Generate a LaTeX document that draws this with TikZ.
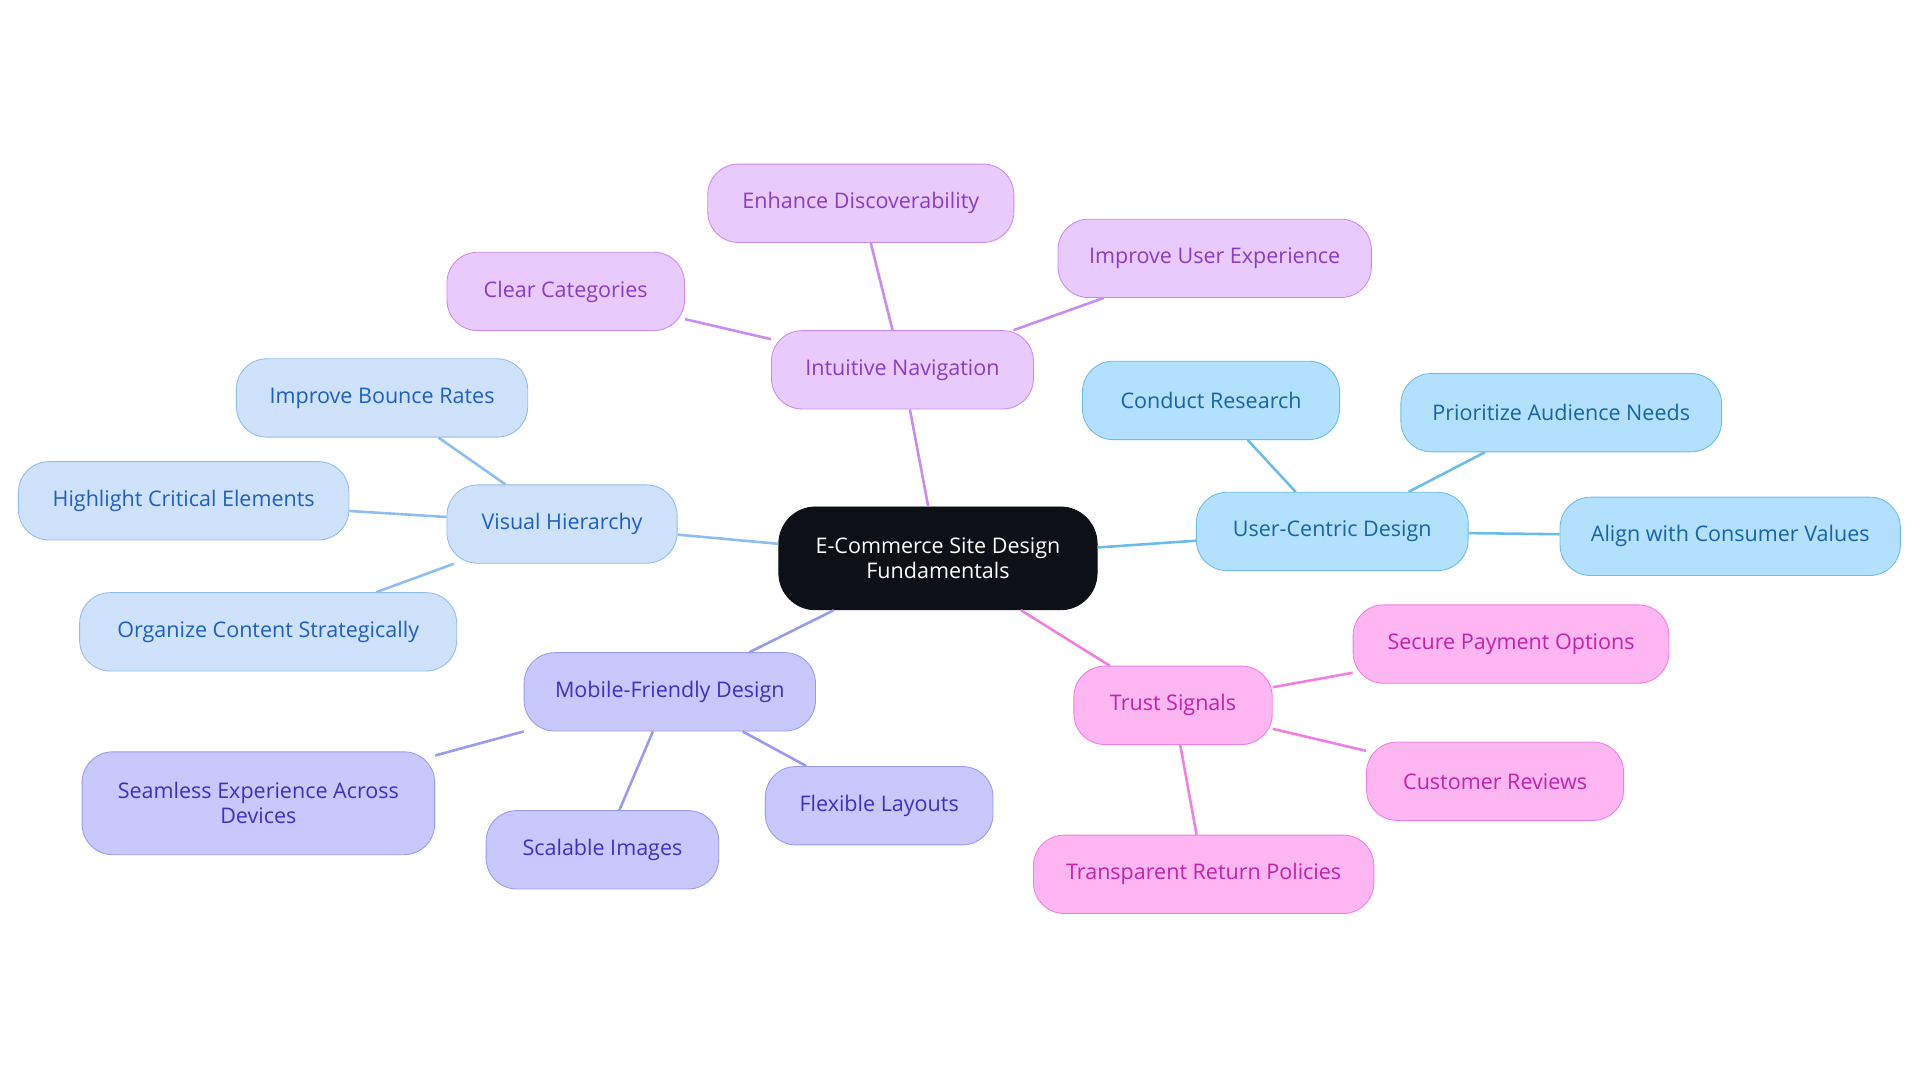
\documentclass[tikz,border=0pt]{standalone}
\usepackage{fontspec}
\setmainfont{Open Sans}
\definecolor{rootfill}{HTML}{0D1117}
\definecolor{vhfill}{HTML}{CFE2FB}\definecolor{vhline}{HTML}{90BDF0}\definecolor{vhtext}{HTML}{1F5FBF}
\definecolor{ucfill}{HTML}{B3E0FC}\definecolor{ucline}{HTML}{6BBCEC}\definecolor{uctext}{HTML}{1565A8}
\definecolor{nvfill}{HTML}{E8CBFC}\definecolor{nvline}{HTML}{C98BEE}\definecolor{nvtext}{HTML}{8A3CC4}
\definecolor{mbfill}{HTML}{C8C8FC}\definecolor{mbline}{HTML}{9A9AF0}\definecolor{mbtext}{HTML}{3B32C0}
\definecolor{tsfill}{HTML}{FDB6F2}\definecolor{tsline}{HTML}{F07FDF}\definecolor{tstext}{HTML}{C024A8}
\tikzset{
  bubble/.style={rounded corners=0.5cm, minimum height=1.28cm, inner sep=2pt, align=center, font=\fontsize{10}{11.5}\selectfont},
  vh/.style={bubble, fill=vhfill, draw=vhline, text=vhtext},
  uc/.style={bubble, fill=ucfill, draw=ucline, text=uctext},
  nv/.style={bubble, fill=nvfill, draw=nvline, text=nvtext},
  mb/.style={bubble, fill=mbfill, draw=mbline, text=mbtext},
  ts/.style={bubble, fill=tsfill, draw=tsline, text=tstext},
  link/.style={line width=1.2pt},
}
\begin{document}
\begin{tikzpicture}[x=0.02cm,y=-0.02cm]
  \useasboundingbox (0,0) rectangle (1568,885);
  % centre
  \node[bubble, fill=rootfill, draw=rootfill, text=white, minimum width=5.2cm, minimum height=1.68cm, rounded corners=0.6cm] (root) at (766,456) {E-Commerce Site Design\\Fundamentals};
  % navigation
  \node[nv, minimum width=4.28cm] (nav) at (737,302) {Intuitive Navigation};
  \node[nv, minimum width=5cm] (nav1) at (703,166) {Enhance Discoverability};
  \node[nv, minimum width=5.12cm] (nav2) at (992,211) {Improve User Experience};
  \node[nv, minimum width=3.88cm] (nav3) at (462,238) {Clear Categories};
  % visual hierarchy
  \node[vh, minimum width=3.76cm] (vis) at (459,428) {Visual Hierarchy};
  \node[vh, minimum width=4.76cm] (vis1) at (312,325) {Improve Bounce Rates};
  \node[vh, minimum width=5.4cm] (vis2) at (150,409) {Highlight Critical Elements};
  \node[vh, minimum width=6.16cm] (vis3) at (219,516) {Organize Content Strategically};
  % mobile
  \node[mb, minimum width=4.76cm] (mob) at (547,565) {Mobile-Friendly Design};
  \node[mb, minimum width=5.76cm, minimum height=1.68cm] (mob1) at (211,656) {Seamless Experience Across\\Devices};
  \node[mb, minimum width=3.8cm] (mob2) at (492,694) {Scalable Images};
  \node[mb, minimum width=3.72cm] (mob3) at (718,658) {Flexible Layouts};
  % trust
  \node[ts, minimum width=3.24cm] (trust) at (958,576) {Trust Signals};
  \node[ts, minimum width=5.16cm] (trust1) at (1234,526) {Secure Payment Options};
  \node[ts, minimum width=4.2cm] (trust2) at (1221,638) {Customer Reviews};
  \node[ts, minimum width=5.56cm] (trust3) at (983,714) {Transparent Return Policies};
  % user-centric
  \node[uc, minimum width=4.44cm] (user) at (1088,434) {User-Centric Design};
  \node[uc, minimum width=4.2cm] (user1) at (989,327) {Conduct Research};
  \node[uc, minimum width=5.24cm] (user2) at (1275,337) {Prioritize Audience Needs};
  \node[uc, minimum width=5.56cm] (user3) at (1413,438) {Align with Consumer Values};
  % links
  \begin{scope}[on background layer/.style={}]
  \end{scope}
  \begin{pgfinterruptboundingbox}\end{pgfinterruptboundingbox}
  \foreach \a/\b/\c in {root/nav/nvline, nav/nav1/nvline, nav/nav2/nvline, nav/nav3/nvline,
      root/vis/vhline, vis/vis1/vhline, vis/vis2/vhline, vis/vis3/vhline,
      root/mob/mbline, mob/mob1/mbline, mob/mob2/mbline, mob/mob3/mbline,
      root/trust/tsline, trust/trust1/tsline, trust/trust2/tsline, trust/trust3/tsline,
      root/user/ucline, user/user1/ucline, user/user2/ucline, user/user3/ucline}
    \draw[link, \c] (\a) -- (\b);
\end{tikzpicture}
\end{document}
